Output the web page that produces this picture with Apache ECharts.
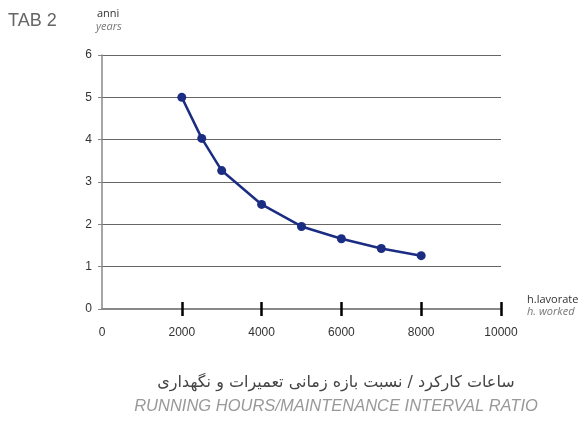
<!DOCTYPE html>
<html><head><meta charset="utf-8">
<script src="https://cdn.jsdelivr.net/npm/echarts@6/dist/echarts.min.js"></script>
<style>html,body{margin:0;padding:0;background:#fff}#c{width:583px;height:421px}</style>
</head><body><div id="c"></div>
<script>
const hours = [2000, 2500, 3000, 4000, 5000, 6000, 7000, 8000];
const years = [5.0, 4.03, 3.27, 2.47, 1.95, 1.66, 1.43, 1.26];
const xTicks = [2000, 4000, 6000, 8000, 10000];

const chart = echarts.init(document.getElementById('c'));
const lblFont = {color: '#333', fontSize: 12, fontFamily: 'Arial, Liberation Sans, sans-serif'};
chart.setOption({
  animation: false,
  grid: {left: 102, right: 82, top: 55, bottom: 112},
  xAxis: [{
    type: 'value', min: 0, max: 10000, interval: 2000, position: 'bottom',
    axisLine: {show: true, lineStyle: {color: '#888', width: 2}},
    axisTick: {show: true, inside: true, length: 7, customValues: xTicks, lineStyle: {color: '#000', width: 2.5}},
    axisLabel: Object.assign({margin: 18, formatter: v => String(v)}, lblFont),
    splitLine: {show: false}
  }, {
    type: 'value', min: 0, max: 10000, interval: 2000, position: 'bottom',
    axisLine: {show: false},
    axisTick: {show: true, inside: false, length: 7, customValues: xTicks, lineStyle: {color: '#000', width: 2.5}},
    axisLabel: {show: false},
    splitLine: {show: false}
  }],
  yAxis: {
    type: 'value', min: 0, max: 6, interval: 1,
    axisLine: {show: true, lineStyle: {color: '#888', width: 1.5}},
    axisTick: {show: true, length: 4, lineStyle: {color: '#888'}},
    axisLabel: Object.assign({margin: 10}, lblFont),
    splitLine: {show: true, lineStyle: {color: '#666', width: 1}}
  },
  series: [{
    type: 'line', xAxisIndex: 0,
    data: hours.map((h, i) => [h, years[i]]),
    symbol: 'circle', symbolSize: 9,
    lineStyle: {color: '#1b2d82', width: 2.5},
    itemStyle: {color: '#1b2d82'}
  }],
  graphic: [
    {type: 'text', left: 8, top: 12, style: {text: 'TAB 2', fill: '#666', font: '300 18px Arial, Liberation Sans, sans-serif'}},
    {type: 'text', left: 97, top: 8, style: {text: 'anni', fill: '#333', font: '11px "Open Sans", sans-serif'}},
    {type: 'text', left: 96, top: 21, style: {text: 'years', fill: '#777', font: 'italic 11px "Open Sans", sans-serif'}},
    {type: 'text', left: 527, top: 294, style: {text: 'h.lavorate', fill: '#333', font: '11px "Open Sans", sans-serif'}},
    {type: 'text', left: 527, top: 306, style: {text: 'h. worked', fill: '#777', font: 'italic 11px "Open Sans", sans-serif'}},
    {type: 'text', x: 336, y: 383, style: {text: 'ساعات کارکرد / نسبت بازه زمانی تعمیرات و نگهداری', fill: '#444', font: '16px "DejaVu Sans", sans-serif', align: 'center', verticalAlign: 'middle'}},
    {type: 'text', x: 336, y: 406, style: {text: 'RUNNING HOURS/MAINTENANCE INTERVAL RATIO', fill: '#999', font: 'italic 16.5px Arial, Liberation Sans, sans-serif', align: 'center', verticalAlign: 'middle'}}
  ]
});
</script></body></html>
